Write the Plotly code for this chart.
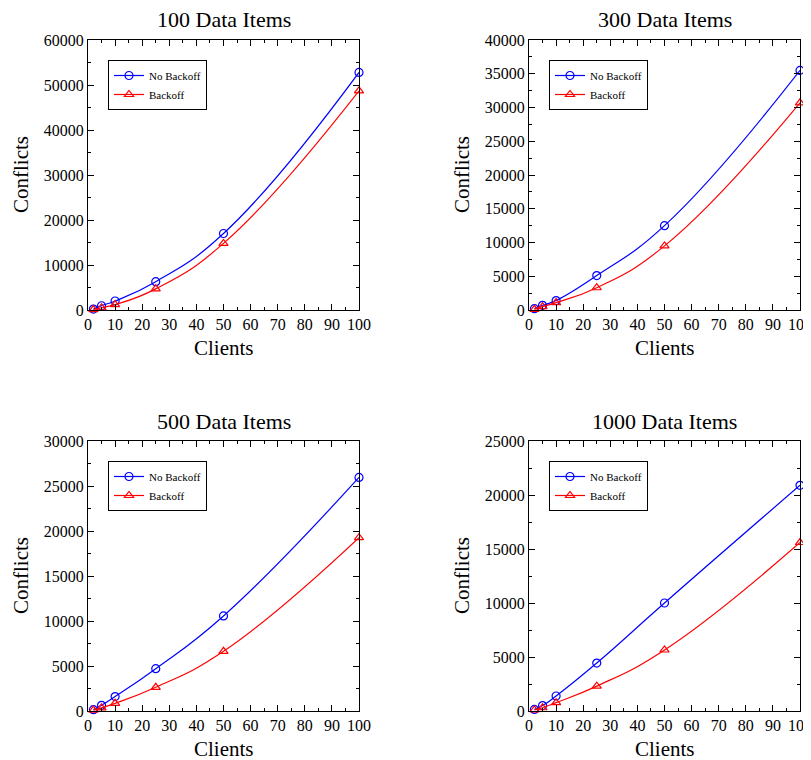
import plotly.graph_objects as go

clients = [2, 5, 10, 25, 50, 100]

titles = ["100 Data Items", "300 Data Items", "500 Data Items", "1000 Data Items"]

no_backoff_100 = [200, 950, 2000, 6300, 17000, 52800]
backoff_100 = [100, 500, 1200, 4700, 14800, 48700]

no_backoff_300 = [200, 700, 1400, 5100, 12500, 35500]
backoff_300 = [100, 500, 1100, 3300, 9500, 30700]

no_backoff_500 = [150, 630, 1600, 4700, 10560, 25950]
backoff_500 = [100, 350, 850, 2630, 6630, 19260]

no_backoff_1000 = [150, 500, 1390, 4440, 10000, 20900]
backoff_1000 = [100, 300, 770, 2300, 5650, 15600]

y_ranges = [60000, 40000, 30000, 25000]
y_dticks = [10000, 5000, 5000, 5000]
y_minor = [5000, 2500, 2500, 2500]

series = [
    (no_backoff_100, backoff_100),
    (no_backoff_300, backoff_300),
    (no_backoff_500, backoff_500),
    (no_backoff_1000, backoff_1000),
]

OFF = 8  # default page body margin
W, H = 811 - OFF, 760 - OFF
# plot-area pixel boxes in window coords (left, right, top, bottom)
boxes = [
    (88, 359, 40, 310),
    (529, 800, 40, 310),
    (88, 359, 441, 711),
    (529, 800, 441, 711),
]

def px(x):
    return (x - OFF) / W

def py(y):
    return 1 - (y - OFF) / H

FONT = "Liberation Serif"
fig = go.Figure()

for i, ((nb, b), (l, r, t, bt)) in enumerate(zip(series, boxes)):
    k = "" if i == 0 else str(i + 1)
    leg = "legend" if i == 0 else f"legend{i + 1}"
    fig.add_trace(go.Scatter(
        x=clients, y=nb, name="No Backoff", mode="lines+markers",
        line=dict(color="#0000ff", width=1.2, shape="spline", smoothing=1.3),
        marker=dict(symbol="circle-open", size=8, color="#0000ff", line=dict(width=1.2)),
        xaxis="x" + k, yaxis="y" + k, legend=leg, cliponaxis=False,
    ))
    fig.add_trace(go.Scatter(
        x=clients, y=b, name="Backoff", mode="lines+markers",
        line=dict(color="#ff0000", width=1.2, shape="spline", smoothing=1.3),
        marker=dict(symbol="triangle-up-open", size=8, color="#ff0000", line=dict(width=1.2)),
        xaxis="x" + k, yaxis="y" + k, legend=leg, cliponaxis=False,
    ))
    axcommon = dict(
        showline=True, linecolor="black", linewidth=1, mirror="allticks",
        ticks="inside", ticklen=6, tickcolor="black", showgrid=False, zeroline=False,
        tickfont=dict(family=FONT, size=16, color="black"), automargin=False,
        tickformat="d", ticklabeloverflow="allow",
    )
    fig.layout["xaxis" + k] = dict(
        axcommon, domain=[px(l), px(r)], anchor="y" + k, range=[0, 100], dtick=10,
        minor=dict(ticks="inside", ticklen=3, dtick=5, tickcolor="black", showgrid=False),
    )
    fig.layout["yaxis" + k] = dict(
        axcommon, domain=[py(bt), py(t)], anchor="x" + k, range=[0, y_ranges[i]],
        dtick=y_dticks[i],
        minor=dict(ticks="inside", ticklen=3, dtick=y_minor[i], tickcolor="black", showgrid=False),
    )
    fig.layout[leg] = dict(
        x=px(l + 20), y=py(t + 20), xanchor="left", yanchor="top",
        bordercolor="black", borderwidth=1, bgcolor="white",
        font=dict(family=FONT, size=11, color="black"),
        tracegroupgap=0, itemwidth=30,
    )
    # subplot title
    fig.add_annotation(
        text=titles[i], x=px((l + r) / 2), y=py(t - 20), xref="paper", yref="paper",
        showarrow=False, font=dict(family=FONT, size=22, color="black"),
        xanchor="center", yanchor="middle",
    )
    # x-axis title
    fig.add_annotation(
        text="Clients", x=px((l + r) / 2), y=py(bt + 38), xref="paper", yref="paper",
        showarrow=False, font=dict(family=FONT, size=21, color="black"),
        xanchor="center", yanchor="middle",
    )
    # y-axis title
    fig.add_annotation(
        text="Conflicts", x=px(l - 67), y=py((t + bt) / 2), xref="paper", yref="paper",
        showarrow=False, font=dict(family=FONT, size=21, color="black"),
        xanchor="center", yanchor="middle", textangle=-90,
    )

fig.update_layout(
    width=W, height=H, margin=dict(l=0, r=0, t=0, b=0, autoexpand=False),
    paper_bgcolor="white", plot_bgcolor="white", showlegend=True,
)

fig.write_html("out.html")
